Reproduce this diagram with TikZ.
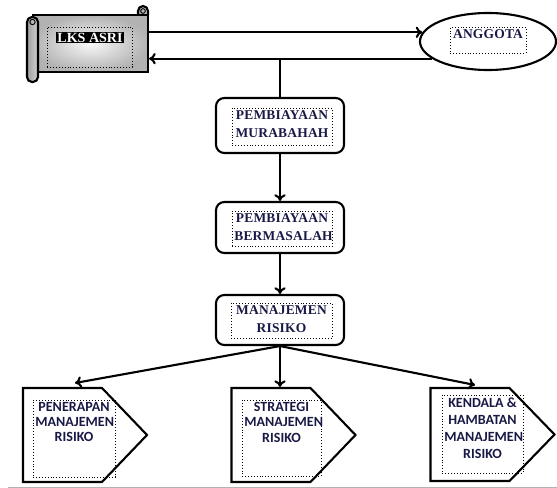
\documentclass[tikz,border=0pt]{standalone}
\usepackage{fontspec}
\setmainfont{Liberation Serif}
\newfontfamily\spacedfont[LetterSpace=1.5]{Liberation Serif}
\newfontfamily\calfont{Carlito}
\usetikzlibrary{shapes.geometric, arrows.meta}
\definecolor{txtnavy}{RGB}{25,25,70}

\begin{document}
\begin{tikzpicture}[x=0.03cm, y=-0.03cm, line width=1.8pt,
    kotak/.style={draw, rounded corners=2.5mm, minimum width=3.84cm, minimum height=1.6cm},
    titik/.style={draw, dotted, line width=0.5pt, inner sep=2pt},
    tulisan/.style={font=\fontsize{11.5}{15.5}\selectfont\spacedfont\bfseries, text=txtnavy},
    kecil/.style={font=\fontsize{12}{13}\selectfont\calfont\bfseries, text=txtnavy},
    panah/.style={draw=none, outer sep=0pt, minimum width=2.37cm, minimum height=2.82cm},
    gulung/.style={left color=gray!75, right color=gray!35},
    arr/.style={-{Computer Modern Rightarrow[length=2mm, width=3.4mm]}}]
    \useasboundingbox (0,0) rectangle (557,488);

    % gulungan LKS ASRI
    \draw[gulung] (138,15) -- (138,11) arc[start angle=180, end angle=0, radius=1.5mm] -- (148,15);
    \node[draw, shading=radial, inner color=gray!5, outer color=gray!60,
          minimum width=3.45cm, minimum height=1.71cm] (lks) at (90.5,43.5) {};
    \draw[gulung, rounded corners=1.5mm] (27,17) rectangle (38,82);
    \draw[line width=0.8pt] (32.5,22) circle[radius=0.8mm];
    \draw[line width=0.8pt] (143,11) circle[radius=0.7mm];
    \node[titik, minimum width=2.55cm, minimum height=1.2cm] (lksframe) at (89.5,47) {};
    \node[fill=black, text=white, inner sep=1pt, font=\fontsize{12}{13}\selectfont\bfseries] (lkstext) at (90,37.5) {LKS ASRI};

    % anggota
    \node[draw, ellipse, minimum width=4.08cm, minimum height=1.71cm] (anggota) at (488,41.5) {};
    \node[titik, tulisan] (anggotatext) at (488,40) {\parbox[t][0.64cm][t]{2.14cm}{\centering ANGGOTA}};

    % kotak tengah
    \node[kotak, minimum height=1.65cm] (murabahah) at (280,125.5) {};
    \node[kotak, minimum height=1.53cm] (bermasalah) at (280,227.5) {};
    \node[kotak, minimum height=1.5cm] (risiko) at (280,320) {};
    \node[titik, tulisan] (murabahahtext) at (282,126.5) {\parbox[t][0.97cm][t]{2.86cm}{\centering PEMBIAYAAN\\MURABAHAH}};
    \node[titik, tulisan] (bermasalahtext) at (282,228.5) {\parbox[t][0.91cm][t]{2.86cm}{\centering PEMBIAYAAN\\BERMASALAH}};
    \node[titik, tulisan] (risikotext) at (281.5,320.5) {\parbox[t][0.91cm][t]{2.89cm}{\centering MANAJEMEN\\RISIKO}};

    % bentuk panah bawah
    \node[panah] (penerapan) at (62.5,435) {};
    \node[panah] (strategi) at (271,435) {};
    \node[panah, minimum height=2.79cm] (kendala) at (470,434.5) {};
    \draw (penerapan.north west) -- (penerapan.north east) -- ([xshift=1.35cm]penerapan.east) -- (penerapan.south east) -- (penerapan.south west) -- cycle;
    \draw (strategi.north west) -- (strategi.north east) -- ([xshift=1.35cm]strategi.east) -- (strategi.south east) -- (strategi.south west) -- cycle;
    \draw (kendala.north west) -- (kendala.north east) -- ([xshift=1.35cm]kendala.east) -- (kendala.south east) -- (kendala.south west) -- cycle;
    \node[titik, kecil] (penerapantext) at (74,438.5) {\parbox[t][2.17cm][t]{2.32cm}{\centering PENERAPAN\\MANAJEMEN\\RISIKO}};
    \node[titik, kecil] (strategitext) at (281.5,438) {\parbox[t][2.14cm][t]{2.23cm}{\centering STRATEGI\\MANAJEMEN\\RISIKO}};
    \node[titik, kecil, font=\fontsize{12}{14.5}\selectfont\calfont\bfseries] (kendalatext) at (482.5,434) {\parbox[t][2.2cm][t]{2.29cm}{\centering KENDALA \&\\HAMBATAN\\MANAJEMEN\\RISIKO}};

    % garis penghubung
    \draw[arr] (lks.east |- anggota.172) -- (anggota.172);
    \draw[arr] (anggota.197) -- (lks.east |- anggota.197);
    \draw (murabahah.north) -- (murabahah.north |- anggota.197);
    \draw[arr] (murabahah) -- (bermasalah);
    \draw[arr] (bermasalah) -- (risiko);
    \draw[arr] (risiko.south) -- ([xshift=0.375cm, yshift=0.15cm]penerapan.north);
    \draw[arr] (risiko.south) -- ([yshift=0.03cm]risiko.south |- strategi.north);
    \draw[arr] (risiko.south) -- ([xshift=0.15cm, yshift=0.09cm]kendala.north);

    \draw[gray!60, line width=0.8pt] (8,487) -- (557,487);
\end{tikzpicture}
\end{document}
